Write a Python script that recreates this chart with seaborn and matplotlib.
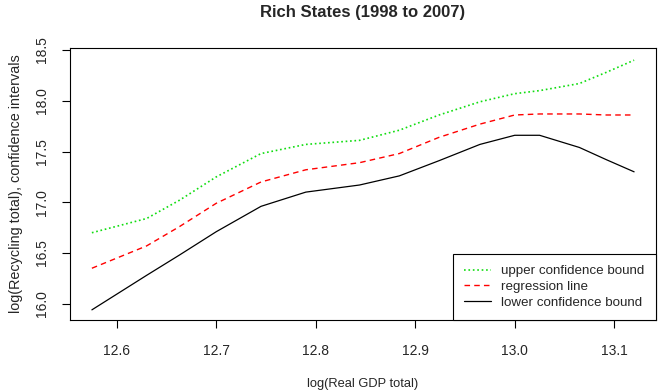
import matplotlib
matplotlib.use("Agg")
import matplotlib.pyplot as plt
import seaborn as sns
import pandas as pd

# values
gdp = [12.575, 12.63, 12.663, 12.70, 12.745, 12.79, 12.844, 12.884,
       12.924, 12.965, 13.0, 13.025, 13.065, 13.092, 13.12]
upper = [16.70, 16.84, 17.02, 17.25, 17.48, 17.57, 17.61, 17.71,
         17.86, 17.99, 18.07, 18.10, 18.17, 18.28, 18.40]
fit = [16.35, 16.57, 16.76, 16.99, 17.20, 17.32, 17.39, 17.48,
       17.64, 17.77, 17.86, 17.87, 17.87, 17.86, 17.86]
lower = [15.94, 16.28, 16.48, 16.71, 16.96, 17.10, 17.17, 17.26,
         17.41, 17.57, 17.66, 17.66, 17.54, 17.42, 17.30]

x_ticks = [12.6, 12.7, 12.8, 12.9, 13.0, 13.1]
y_ticks = [16.0, 16.5, 17.0, 17.5, 18.0, 18.5]

sns.set_style("white")
plt.rcParams['font.family'] = ['Liberation Sans', 'DejaVu Sans']

df = pd.DataFrame({"gdp": gdp, "upper": upper, "fit": fit, "lower": lower})

fig = plt.figure(figsize=(6.62, 3.90), dpi=100)
ax = fig.add_axes([70 / 662, 70 / 390, 586 / 662, 272 / 390])

sns.lineplot(data=df, x="gdp", y="upper", ax=ax, color="#11DD11", linestyle=":",
             linewidth=1.2, label="upper confidence bound")
sns.lineplot(data=df, x="gdp", y="fit", ax=ax, color="#FF0000", linestyle=(0, (4, 3)),
             linewidth=1.0, label="regression line")
sns.lineplot(data=df, x="gdp", y="lower", ax=ax, color="#000000", linestyle="-",
             linewidth=0.9, label="lower confidence bound")

ax.set_xlim(12.553, 13.142)
ax.set_ylim(15.84, 18.52)
ax.set_xticks(x_ticks)
ax.set_xticklabels([f"{v:.1f}" for v in x_ticks])
ax.set_yticks(y_ticks)
ax.set_yticklabels([f"{v:.1f}" for v in y_ticks], rotation=90, va="center")
ax.tick_params(axis="both", direction="out", length=6, width=0.8, color="black",
               labelsize=10, bottom=True, left=True)
ax.tick_params(axis="x", pad=11)
ax.tick_params(axis="y", pad=9)

for s in ax.spines.values():
    s.set_color("black")
    s.set_linewidth(0.8)

ax.set_xlabel("log(Real GDP total)", fontsize=9.3, labelpad=15)
ax.set_ylabel("log(Recycling total), confidence intervals", fontsize=10.4, labelpad=9)
ax.set_title("Rich States (1998 to 2007)", fontsize=12, fontweight="bold", pad=22)

leg = ax.legend(loc="lower right", borderaxespad=0, fancybox=False, fontsize=9.6,
                handlelength=2.0, handletextpad=0.8, labelspacing=0.25,
                borderpad=0.85, framealpha=1)
leg.get_frame().set_edgecolor("black")
leg.get_frame().set_linewidth(0.8)

fig.savefig("out.png", dpi=100)
